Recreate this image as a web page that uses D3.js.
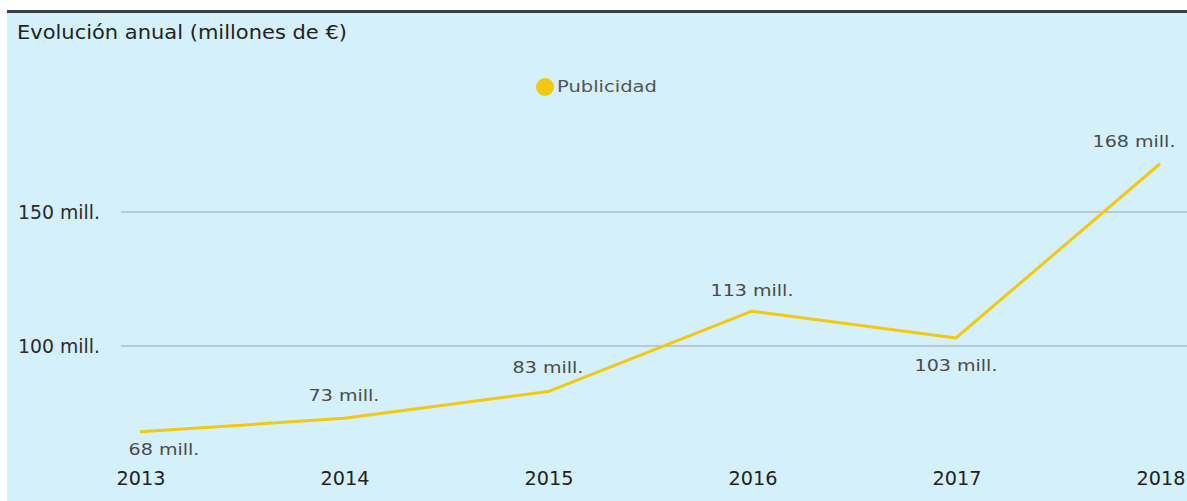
<!DOCTYPE html>
<html>
<head>
<meta charset="utf-8">
<script src="https://cdn.jsdelivr.net/npm/d3@7"></script>
<style>
  html, body { margin: 0; padding: 0; background: #ffffff; }
  svg { display: block; }
  text { font-family: "DejaVu Sans", "Open Sans", sans-serif; }
</style>
</head>
<body>
<svg id="chart" width="1187" height="501"></svg>
<script>
// ---- data ----
const years = ["2013", "2014", "2015", "2016", "2017", "2018"];
const publicidad = [68, 73, 83, 113, 103, 168];
const valueLabels = ["68 mill.", "73 mill.", "83 mill.", "113 mill.", "103 mill.", "168 mill."];
const yTicks = [100, 150];
const yTickLabels = ["100 mill.", "150 mill."];
const seriesName = "Publicidad";
const title = "Evolución anual (millones de €)";

// ---- layout ----
const W = 1187, H = 501;
const svg = d3.select("#chart");
const bg = "#d4f0fa";

svg.append("rect").attr("x", 0).attr("y", 0).attr("width", W).attr("height", H).attr("fill", "#ffffff");
svg.append("rect").attr("x", 7).attr("y", 12).attr("width", W - 7).attr("height", H - 12).attr("fill", bg);
svg.append("rect").attr("x", 7).attr("y", 10).attr("width", W - 7).attr("height", 3).attr("fill", "#3a3f44");

const x = d3.scalePoint().domain(years).range([140, 1160]);
const y = d3.scaleLinear().domain([50, 175]).range([480, 145]);

// scale a group of texts horizontally by one common factor, chosen so that the
// widest one reaches the target width
function fitGroup(sel, target) {
  let maxW = 0;
  sel.each(function () { maxW = Math.max(maxW, this.getComputedTextLength()); });
  const sx = target / maxW;
  sel.each(function () {
    const el = d3.select(this);
    const ax = +el.attr("x");
    el.attr("transform", `translate(${ax},0) scale(${sx},1) translate(${-ax},0)`);
  });
}

// gridlines
svg.append("g").selectAll("line").data(yTicks).join("line")
  .attr("x1", 121).attr("x2", W)
  .attr("y1", d => y(d)).attr("y2", d => y(d))
  .attr("stroke", "#b4bcc0").attr("stroke-width", 1.5);

// y axis labels
svg.append("g").selectAll("text").data(yTicks).join("text")
  .attr("x", 18).attr("y", d => y(d)).attr("dy", "0.35em")
  .attr("font-size", 19).attr("fill", "#2b2b2b")
  .text((d, i) => yTickLabels[i])
  .call(fitGroup, 82);

// x axis labels
svg.append("g").selectAll("text").data(years).join("text")
  .attr("x", d => x(d) + 1).attr("y", 478).attr("dy", "0.35em")
  .attr("text-anchor", "middle")
  .attr("font-size", 19).attr("fill", "#222")
  .text(d => d)
  .call(fitGroup, 49);

// line
const line = d3.line().x((d, i) => x(years[i])).y(d => y(d));
svg.append("path").datum(publicidad)
  .attr("d", line).attr("fill", "none")
  .attr("stroke", "#f2c811").attr("stroke-width", 3)
  .attr("stroke-linejoin", "round");

// data labels (placement is layout, not data)
const place = [
  { dx: 24, dy: 18 }, { dx: 0, dy: -23 }, { dx: 0, dy: -24 },
  { dx: 0, dy: -21 }, { dx: 0, dy: 27 }, { dx: -26, dy: -22 }
];
svg.append("g").selectAll("text").data(publicidad).join("text")
  .attr("x", (d, i) => x(years[i]) + place[i].dx)
  .attr("y", (d, i) => y(d) + place[i].dy)
  .attr("dy", "0.35em").attr("text-anchor", "middle")
  .attr("font-size", 16).attr("fill", "#4a4a4a")
  .text((d, i) => valueLabels[i])
  .call(fitGroup, 83);

// legend
svg.append("circle").attr("cx", 545).attr("cy", 87).attr("r", 9).attr("fill", "#f2c811");
svg.append("text").attr("x", 557).attr("y", 87).attr("dy", "0.35em")
  .attr("font-size", 15).attr("fill", "#555").text(seriesName)
  .call(fitGroup, 100);

// title
svg.append("text").attr("x", 17).attr("y", 32).attr("dy", "0.35em")
  .attr("font-size", 20).attr("fill", "#222").text(title)
  .call(fitGroup, 330);
</script>
</body>
</html>
